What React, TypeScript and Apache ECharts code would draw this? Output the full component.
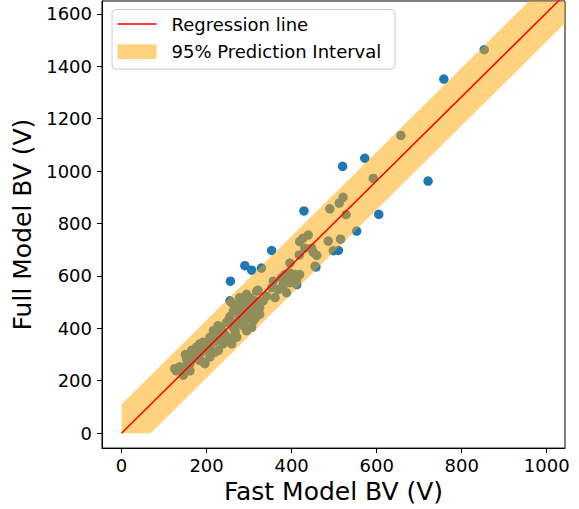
import React, { useEffect, useRef } from "react";
import * as echarts from "echarts";

const FONT = "DejaVu Sans";

const xTicks = [0, 200, 400, 600, 800, 1000];
const yTicks = [0, 200, 400, 600, 800, 1000, 1200, 1400, 1600];

// Fast Model BV (x) vs Full Model BV (y)
const fastBV = [
  853, 758, 657, 572, 520, 592, 721, 521, 512, 490, 429, 528, 605, 553, 486, 515, 510, 498,
  439, 427, 419, 447, 431, 459, 451, 418, 455, 396, 353, 290, 306, 256, 329, 408, 384, 419,
  412, 396, 392, 412, 396, 380, 376, 357, 353, 368, 380, 388, 361, 341, 333, 325, 318, 302,
  290, 278, 274, 263, 255, 278, 298, 310, 325, 286, 267, 247, 239, 306, 294, 321, 310, 286,
  294, 271, 259, 251, 231, 227, 216, 208, 208, 220, 192, 188, 176, 165, 168, 153, 161, 196,
  192, 161, 149, 137, 125, 145, 184, 200, 224, 231, 251, 259, 278, 306, 314, 267, 239, 184,
  172, 228, 208, 161, 129, 141, 271, 235, 245, 255, 282, 300, 315, 290, 270, 220, 205, 180,
  170, 155, 150, 243, 262, 457
];
const fullBV = [
  1463, 1351, 1136, 1049, 1018, 972, 962, 900, 878, 856, 848, 834, 835, 771, 733, 740, 697, 696,
  756, 744, 731, 706, 706, 678, 690, 680, 637, 649, 697, 639, 622, 580, 630, 605, 605, 605,
  586, 611, 580, 567, 574, 567, 593, 580, 555, 548, 561, 536, 517, 523, 505, 479, 542, 517,
  498, 517, 486, 467, 505, 442, 454, 429, 454, 410, 391, 423, 385, 404, 530, 545, 479, 467,
  391, 366, 341, 360, 379, 410, 391, 366, 335, 309, 347, 309, 328, 316, 297, 284, 265, 265,
  272, 238, 234, 253, 246, 221, 278, 322, 366, 404, 429, 498, 492, 467, 505, 379, 341, 341,
  316, 316, 291, 303, 238, 246, 479, 395, 372, 445, 455, 490, 440, 430, 420, 350, 315, 300,
  285, 270, 300, 350, 405, 634
];

// Regression line and 95% prediction interval
const regX = [0, 1100];
const regY = [0, 1765.5];
const bandX = [0, 68.5, 1100];
const bandUpper = [110, 220, 1875.5];
const bandLower = [0, 0, 1655.5];

export default function App() {
  const ref = useRef<HTMLDivElement>(null);
  useEffect(() => {
    if (!ref.current) return;
    const chart = echarts.init(ref.current, undefined, { renderer: "svg" });
    const scatterData = fastBV.map((x, i) => [x, fullBV[i]]);
    const lineData = regX.map((x, i) => [x, regY[i]]);
    const fmt = (v: number) => String(v);
    chart.setOption({
      animation: false,
      textStyle: { fontFamily: FONT },
      grid: {
        left: 102,
        right: 14,
        top: 1,
        bottom: 57,
        show: true,
        borderColor: "#000",
        borderWidth: 1,
        backgroundColor: "transparent",
      },
      xAxis: {
        type: "value",
        min: -46,
        max: 1043,
        axisLine: { show: true, onZero: false, lineStyle: { color: "#000", width: 1 } },
        axisTick: { show: true, length: 5, customValues: xTicks, lineStyle: { color: "#000" } },
        axisLabel: { customValues: xTicks, formatter: fmt, fontSize: 18, color: "#000", margin: 8, fontFamily: FONT },
        splitLine: { show: false },
        name: "Fast Model BV (V)",
        nameLocation: "middle",
        nameGap: 24,
        nameTextStyle: { fontSize: 25, color: "#000", fontFamily: FONT },
      },
      yAxis: {
        type: "value",
        min: -57,
        max: 1649,
        axisLine: { show: true, onZero: false, lineStyle: { color: "#000", width: 1 } },
        axisTick: { show: true, length: 5, customValues: yTicks, lineStyle: { color: "#000" } },
        axisLabel: { customValues: yTicks, formatter: fmt, fontSize: 18, color: "#000", margin: 10, fontFamily: FONT },
        splitLine: { show: false },
        name: "Full Model BV (V)",
        nameLocation: "middle",
        nameGap: 51,
        nameTextStyle: { fontSize: 25, color: "#000", fontFamily: FONT },
      },
      series: [
        {
          type: "scatter",
          data: scatterData,
          symbolSize: 9.5,
          itemStyle: { color: "#1f77b4", opacity: 1 },
          z: 1,
        },
        {
          type: "custom",
          clip: true,
          z: 2,
          data: [[0, 0]],
          renderItem: (params: any, api: any) => {
            const pts: number[][] = [];
            for (let i = 0; i < bandX.length; i++) pts.push(api.coord([bandX[i], bandUpper[i]]));
            for (let i = bandX.length - 1; i >= 0; i--) pts.push(api.coord([bandX[i], bandLower[i]]));
            return {
              type: "polygon",
              shape: { points: pts },
              style: { fill: "#ffa500", opacity: 0.5 },
            };
          },
        },
        {
          type: "line",
          data: lineData,
          showSymbol: false,
          symbol: "none",
          clip: true,
          lineStyle: { color: "#ff0000", width: 1.5 },
          z: 3,
        },
      ],
      graphic: [
        {
          type: "rect",
          z: 100,
          shape: { x: 112, y: 9.5, width: 283, height: 59.5, r: 4 },
          style: { fill: "rgba(255,255,255,0.8)", stroke: "#cccccc", lineWidth: 1 },
        },
        {
          type: "line",
          z: 101,
          shape: { x1: 117.5, y1: 24, x2: 156.5, y2: 24 },
          style: { stroke: "#ff0000", lineWidth: 1.5 },
        },
        {
          type: "rect",
          z: 101,
          shape: { x: 117.5, y: 44.3, width: 39, height: 14.7 },
          style: { fill: "#ffa500", opacity: 0.5 },
        },
        {
          type: "text",
          z: 101,
          x: 171.5,
          y: 24.5,
          style: {
            text: "Regression line",
            fontSize: 18,
            fontFamily: FONT,
            fill: "#000",
            verticalAlign: "middle",
            align: "left",
          },
        },
        {
          type: "text",
          z: 101,
          x: 171.5,
          y: 51.5,
          style: {
            text: "95% Prediction Interval",
            fontSize: 18,
            fontFamily: FONT,
            fill: "#000",
            verticalAlign: "middle",
            align: "left",
          },
        },
      ],
    });
    return () => chart.dispose();
  }, []);
  return <div ref={ref} style={{ width: 579, height: 509, position: "absolute", left: 0, top: 0 }} />;
}
